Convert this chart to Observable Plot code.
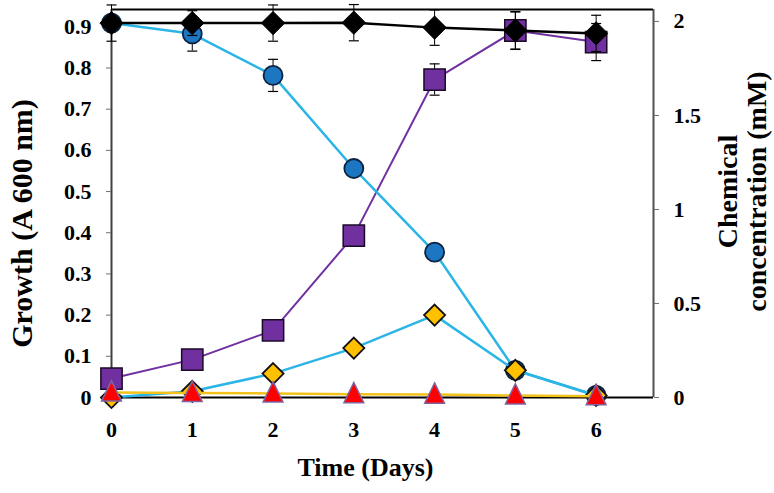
<!DOCTYPE html>
<html>
<head>
<meta charset="utf-8">
<script src="https://cdn.jsdelivr.net/npm/d3@7"></script>
<script src="https://cdn.jsdelivr.net/npm/@observablehq/plot@0.6"></script>
<style>
  html, body { margin: 0; padding: 0; background: #fff; }
  #chart { width: 774px; height: 493px; }
</style>
</head>
<body>
<div id="chart"></div>
<script>
// ---- data (all series expressed in left-axis units, A600 scale) ----
const days = [0, 1, 2, 3, 4, 5, 6];
const blackDiamond    = [0.909, 0.909, 0.909, 0.910, 0.898, 0.891, 0.884];
const blackDiamondErr = [0.044, 0.030, 0.044, 0.044, 0.043, 0.046, 0.044];
const blueCircle      = [0.909, 0.883, 0.782, 0.556, 0.353, 0.066, 0.005];
const blueCircleErr   = [0.010, 0.042, 0.039, 0.012, 0.008, 0.005, 0.003];
const purpleSquare    = [0.046, 0.092, 0.163, 0.393, 0.772, 0.891, 0.863];
const purpleSquareErr = [0.005, 0.005, 0.006, 0.010, 0.038, 0.045, 0.045];
const yellowDiamond   = [0.000, 0.015, 0.058, 0.120, 0.200, 0.066, 0.005];
const redTriangle     = [0.012, 0.011, 0.010, 0.008, 0.007, 0.005, 0.003];

const leftTicks = [0, 0.1, 0.2, 0.3, 0.4, 0.5, 0.6, 0.7, 0.8, 0.9];
const rightTicks = [0, 0.5, 1, 1.5, 2];
const rightTickLabels = ["0", "0.5", "1", "1.5", "2"];
const xTicks = [0, 1, 2, 3, 4, 5, 6];
const rightFactor = 0.4565; // mM -> left-axis units
const xDomain = [0, 6.71];
const yDomain = [0, 0.942];

const mk = (vals, errs) => days.map((d, i) => ({day: d, v: vals[i], e: errs ? errs[i] : 0}));
const sBlack = mk(blackDiamond, blackDiamondErr);
const sBlue = mk(blueCircle, blueCircleErr);
const sPurple = mk(purpleSquare, purpleSquareErr);
const sYellow = mk(yellowDiamond);
const sRed = mk(redTriangle);

const capSymbol = {draw(ctx, size) { const k = Math.sqrt(size / Math.PI); ctx.moveTo(-k, 0); ctx.lineTo(k, 0); }};
const triSymbol = {draw(ctx, size) { const k = Math.sqrt(size / Math.PI); ctx.moveTo(0, -1.3 * k); ctx.lineTo(1.1 * k, 0.95 * k); ctx.lineTo(-1.1 * k, 0.95 * k); ctx.closePath(); }};

const errMarks = (s) => [
  Plot.ruleX(s, {x: "day", y1: d => d.v - d.e, y2: d => d.v + d.e, stroke: "black", strokeWidth: 1}),
  Plot.dot(s, {x: "day", y: d => d.v - d.e, symbol: capSymbol, r: 5, stroke: "black", strokeWidth: 1.2, fill: "none"}),
  Plot.dot(s, {x: "day", y: d => d.v + d.e, symbol: capSymbol, r: 5, stroke: "black", strokeWidth: 1.2, fill: "none"})
];

const font = "'Liberation Serif', 'Times New Roman', serif";

const chart = Plot.plot({
  width: 774,
  height: 493,
  marginLeft: 111,
  marginRight: 121,
  marginTop: 9,
  marginBottom: 96,
  style: {fontFamily: font, fontWeight: "bold", fontSize: "22px", background: "white", color: "black"},
  x: {domain: xDomain},
  y: {domain: yDomain},
  marks: [
    // frame
    Plot.ruleY([yDomain[1]], {stroke: "black", strokeWidth: 2}),
    Plot.ruleX([xDomain[0]], {stroke: "#404040", strokeWidth: 2}),
    Plot.ruleX([xDomain[1]], {stroke: "#505050", strokeWidth: 2}),
    Plot.ruleY([0], {stroke: "black", strokeWidth: 2}),
    // axes
    Plot.axisY({anchor: "left", ticks: leftTicks, tickSize: 5, tickPadding: 15, stroke: "#707070",
      tickFormat: d => d === 0 ? "0" : d.toFixed(1), label: null, fontSize: 22, fontWeight: "bold", fontFamily: font}),
    Plot.axisY({anchor: "right", ticks: rightTicks.map(v => v * rightFactor), tickSize: 5, tickPadding: 15, stroke: "#707070",
      tickFormat: (d, i) => rightTickLabels[i], label: null, fontSize: 22, fontWeight: "bold", fontFamily: font}),
    Plot.axisX({ticks: xTicks, tickSize: 0, tickPadding: 24, tickFormat: d => String(d), label: null,
      fontSize: 22, fontWeight: "bold", fontFamily: font}),
    // titles
    Plot.text(["Growth (A 600 nm)"], {text: d => d, frameAnchor: "left", dx: -89, dy: 20, rotate: -90,
      textAnchor: "middle", lineAnchor: "middle", fontSize: 30, fontWeight: "bold", fontFamily: font, fill: "black"}),
    Plot.text(["Chemical"], {text: d => d, frameAnchor: "right", dx: 75, dy: -12, rotate: -90,
      textAnchor: "middle", lineAnchor: "middle", fontSize: 28, fontWeight: "bold", fontFamily: font, fill: "black"}),
    Plot.text(["concentration (mM)"], {text: d => d, frameAnchor: "right", dx: 104, dy: -12, rotate: -90,
      textAnchor: "middle", lineAnchor: "middle", fontSize: 28, fontWeight: "bold", fontFamily: font, fill: "black"}),
    Plot.text(["Time (Days)"], {text: d => d, frameAnchor: "bottom", dx: -17, dy: 70,
      textAnchor: "middle", lineAnchor: "middle", fontSize: 26, fontWeight: "bold", fontFamily: font, fill: "black"}),
    // purple squares
    Plot.line(sPurple, {x: "day", y: "v", stroke: "#7030a0", strokeWidth: 2}),
    ...errMarks(sPurple),
    Plot.dot(sPurple, {x: "day", y: "v", symbol: "square", r: 12, fill: "#7030a0", stroke: "#1a0a25", strokeWidth: 1.5}),
    // blue circles
    Plot.line(sBlue, {x: "day", y: "v", stroke: "#2bb5e6", strokeWidth: 2.5}),
    ...errMarks(sBlue),
    Plot.dot(sBlue, {x: "day", y: "v", symbol: "circle", r: 9.5, fill: "#1c76c2", stroke: "#0b2340", strokeWidth: 1.8}),
    // yellow diamonds
    Plot.line(sYellow, {x: "day", y: "v", stroke: "#2bb5e6", strokeWidth: 2.5}),
    Plot.dot(sYellow, {x: "day", y: "v", symbol: "diamond2", r: 9.5, fill: "#ffc000", stroke: "#111", strokeWidth: 1.8}),
    // black diamonds
    Plot.line(sBlack, {x: "day", y: "v", stroke: "black", strokeWidth: 2.5}),
    ...errMarks(sBlack),
    Plot.dot(sBlack, {x: "day", y: "v", symbol: "diamond2", r: 10.5, fill: "black", stroke: "black", strokeWidth: 1}),
    // red triangles
    Plot.line(sRed, {x: "day", y: "v", stroke: "#f2c21b", strokeWidth: 2.5}),
    Plot.dot(sRed, {x: "day", y: "v", symbol: triSymbol, r: 9, fill: "#ff0000", stroke: "#8064a2", strokeWidth: 1.5})
  ]
});
document.getElementById("chart").appendChild(chart);
</script>
</body>
</html>
